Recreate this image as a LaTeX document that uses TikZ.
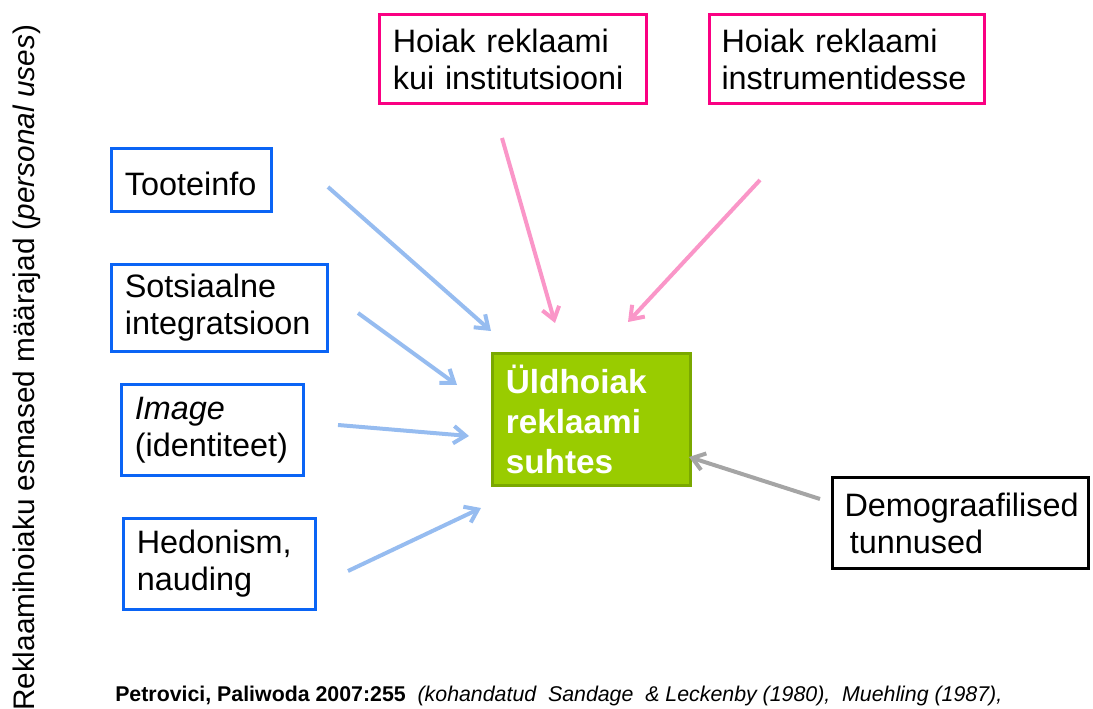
\documentclass[tikz,border=0pt]{standalone}
\usepackage{fontspec}
\setmainfont{Liberation Sans}
\usetikzlibrary{arrows.meta}
\definecolor{boxblue}{RGB}{10,100,245}
\definecolor{boxpink}{RGB}{250,0,130}
\definecolor{arrblue}{RGB}{150,188,240}
\definecolor{arrpink}{RGB}{250,150,200}
\definecolor{arrgray}{RGB}{165,165,165}
\definecolor{greenfill}{RGB}{153,204,0}
\definecolor{greenline}{RGB}{122,168,0}
\begin{document}
\begin{tikzpicture}[x=0.75pt,y=-0.75pt,
  boxbase/.style={draw, line width=2.25pt, outer sep=0pt, inner xsep=10pt, inner ysep=2pt,
    anchor=north west, align=left, font=\fontsize{24.3}{27.75}\selectfont},
  bluebox/.style={boxbase, draw=boxblue},
  pinkbox/.style={boxbase, draw=boxpink},
  blackbox/.style={boxbase, draw=black, inner xsep=9pt},
  greenbox/.style={boxbase, draw=greenline, fill=greenfill, text=white,
    font=\fontsize{25}{30}\selectfont\bfseries},
  arr/.style={line width=3pt, -{Straight Barb[length=9pt,width=13pt]}},
  bluearr/.style={arr, draw=arrblue},
  pinkarr/.style={arr, draw=arrpink},
  grayarr/.style={arr, draw=arrgray}]
\useasboundingbox (0,0) rectangle (1093,709);

% boxes
\node[bluebox, minimum width=120pt, minimum height=47.25pt, text width=100pt, text height=24pt, text depth=0pt] (tooteinfo) at (111.5,148.5) {Tooteinfo};
\node[bluebox, minimum width=162pt, minimum height=65.25pt, text width=142pt] (sots) at (111.5,264.5) {Sotsiaalne\\integratsioon};
\node[bluebox, minimum width=136.5pt, minimum height=68.25pt, text width=116.5pt] (image) at (121.5,384.5) {\textit{Image}\\(identiteet)};
\node[bluebox, minimum width=144pt, minimum height=68.25pt, text width=124pt] (hedon) at (123.5,518.5) {Hedonism,\\nauding};
\node[pinkbox, minimum width=200.25pt, minimum height=66.75pt, text width=180.25pt] (inst) at (379.5,14.5) {Hoiak reklaami\\kui institutsiooni};
\node[pinkbox, minimum width=206.25pt, minimum height=66.75pt, text width=188.25pt, inner xsep=9pt] (instr) at (709.5,14.5) {Hoiak reklaami\\instrumentidesse};
\node[blackbox, minimum width=192pt, minimum height=68.25pt, text width=174pt] (demo) at (832.5,477.5) {Demograafilised\\\hspace*{4pt}tunnused};
\node[greenbox, minimum width=148.5pt, minimum height=99pt, text width=128.5pt] (uld) at (492.5,353.5) {Üldhoiak\\reklaami\\suhtes};

% connector end points
\coordinate (a1s) at (328,187);  \coordinate (a1e) at (491,331);
\coordinate (a2s) at (358,313);  \coordinate (a2e) at (457,385);
\coordinate (a3s) at (338,425);  \coordinate (a3e) at (469,436);
\coordinate (a4s) at (348,571);  \coordinate (a4e) at (481,508);
\coordinate (p1s) at (502,138);  \coordinate (p1e) at (555,323);
\coordinate (p2s) at (760,180);  \coordinate (p2e) at (628,322);
\coordinate (gs) at (820,499);   \coordinate (ge) at (689,457);

\draw[bluearr] (a1s) -- (a1e);
\draw[bluearr] (a2s) -- (a2e);
\draw[bluearr] (a3s) -- (a3e);
\draw[bluearr] (a4s) -- (a4e);
\draw[pinkarr] (p1s) -- (p1e);
\draw[pinkarr] (p2s) -- (p2e);
\draw[grayarr] (gs) -- (ge);

% side title
\node[rotate=90, anchor=base, inner sep=0pt, font=\fontsize{22.3}{24}\selectfont] (side) at (34,368)
  {Reklaamihoiaku esmased määrajad (\textit{personal uses})};

% footer
\node[anchor=base west, inner sep=0pt, font=\fontsize{16}{18}\selectfont] (foot) at (115,701)
  {\textbf{Petrovici, Paliwoda 2007:255}\ \ \textit{(kohandatud\ \ Sandage\ \ \& Leckenby (1980),\ \ Muehling (1987),}};
\end{tikzpicture}
\end{document}
